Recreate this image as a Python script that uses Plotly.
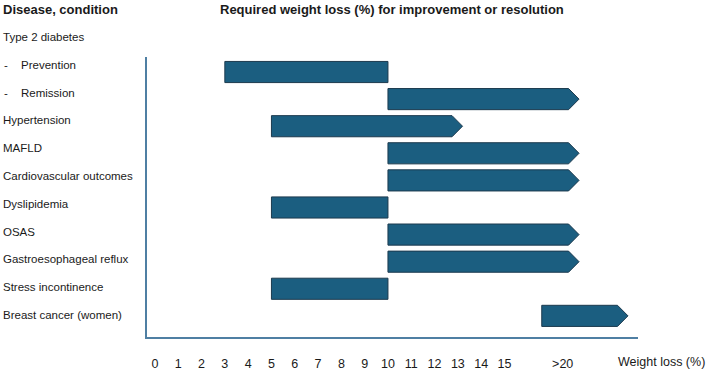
import plotly.graph_objects as go

# ---------------- data ----------------
conditions = ["Type 2 diabetes", "Prevention", "Remission", "Hypertension", "MAFLD",
              "Cardiovascular outcomes", "Dyslipidemia", "OSAS", "Gastroesophageal reflux",
              "Stress incontinence", "Breast cancer (women)"]
sub_item = [False, True, True, False, False, False, False, False, False, False, False]
loss_start = [None, 3, 10, 5, 10, 10, 5, 10, 10, 5, 16.6]
loss_end = [None, 10, 18.2, 13.2, 18.2, 18.2, 10, 18.2, 18.2, 10, 20.3]
open_ended = [False, False, True, True, True, True, False, True, True, False, True]
tick_values = [0, 1, 2, 3, 4, 5, 6, 7, 8, 9, 10, 11, 12, 13, 14, 15, 17.5]
tick_labels = ["0", "1", "2", "3", "4", "5", "6", "7", "8", "9", "10", "11", "12",
               "13", "14", "15", ">20"]

# ---------------- style ----------------
W, H = 709, 373
FONT = "Liberation Sans, Arial, sans-serif"
BAR_FILL = "#1b5e80"
BAR_EDGE = "#1c3a4e"
AXIS_COL = "#4f7fa3"
TXT = "#1a1a1a"
HALF_H = 0.39       # half bar height (row units)
HEAD = 0.45         # arrow head length (x units)
LABEL_TOP = 37      # px centre of first label row
LABEL_STEP = 27.8   # px between label rows

xs, ys = [], []
for i, (s, e, arrow) in enumerate(zip(loss_start, loss_end, open_ended)):
    if s is None:
        continue
    if arrow:
        px = [s, e - HEAD, e, e - HEAD, s, s]
        py = [i - HALF_H, i - HALF_H, i, i + HALF_H, i + HALF_H, i - HALF_H]
    else:
        px = [s, e, e, s, s]
        py = [i - HALF_H, i - HALF_H, i + HALF_H, i + HALF_H, i - HALF_H]
    xs += px + [None]
    ys += py + [None]

fig = go.Figure()
fig.add_trace(go.Scatter(x=xs, y=ys, mode="lines", fill="toself",
                         fillcolor=BAR_FILL, line=dict(color=BAR_EDGE, width=1),
                         hoverinfo="skip", showlegend=False))

annotations = []
lab_font = dict(size=11.5, color=TXT, family=FONT)
for i, (lab, sub) in enumerate(zip(conditions, sub_item)):
    yp = 1 - (LABEL_TOP + i * LABEL_STEP) / H
    if sub:
        annotations.append(dict(text="-", x=2 / W, xref="paper", y=yp, yref="paper",
                                xanchor="left", yanchor="middle", showarrow=False,
                                font=lab_font))
        annotations.append(dict(text=lab, x=19 / W, xref="paper", y=yp, yref="paper",
                                xanchor="left", yanchor="middle", showarrow=False,
                                font=lab_font))
    else:
        annotations.append(dict(text=lab, x=1 / W, xref="paper", y=yp, yref="paper",
                                xanchor="left", yanchor="middle", showarrow=False,
                                font=lab_font))

annotations.append(dict(text="<b>Disease, condition</b>", x=1 / W, xref="paper",
                        y=1 - 9 / H, yref="paper", xanchor="left", yanchor="middle",
                        showarrow=False, font=dict(size=13, color=TXT, family=FONT)))
annotations.append(dict(text="<b>Required weight loss (%) for improvement or resolution</b>",
                        x=392 / W, xref="paper", y=1 - 9 / H, yref="paper",
                        xanchor="center", yanchor="middle", showarrow=False,
                        font=dict(size=13, color=TXT, family=FONT)))
annotations.append(dict(text="Weight loss (%)", x=616 / W, xref="paper",
                        y=1 - 362 / H, yref="paper", xanchor="left", yanchor="middle",
                        showarrow=False, font=dict(size=12.5, color=TXT, family=FONT)))

fig.update_layout(
    width=W, height=H,
    margin=dict(l=0, r=0, t=0, b=0),
    paper_bgcolor="white", plot_bgcolor="white",
    font=dict(family=FONT, color=TXT),
    xaxis=dict(domain=[147 / W, 638 / W], range=[-0.34, 20.73],
               showgrid=False, zeroline=False, showline=True,
               linecolor=AXIS_COL, linewidth=1.5,
               tickmode="array", tickvals=tick_values, ticktext=tick_labels,
               ticks="", ticklabelstandoff=14,
               tickfont=dict(size=12.5, color=TXT, family=FONT)),
    yaxis=dict(domain=[1 - 337 / H, 1 - 57 / H], range=[10.78, 0.446],
               showgrid=False, zeroline=False, showline=True,
               linecolor=AXIS_COL, linewidth=1.5, showticklabels=False, ticks=""),
    annotations=annotations,
)

fig.write_html("out.html", config={"displayModeBar": False},
               post_script="document.body.style.margin='0';")
